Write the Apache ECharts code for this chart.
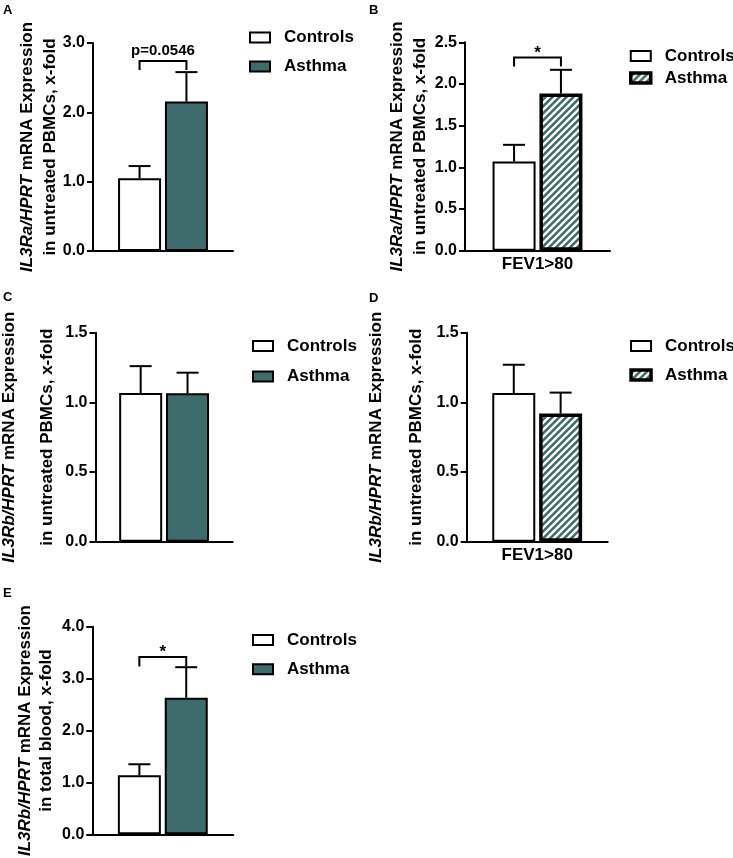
<!DOCTYPE html>
<html><head><meta charset="utf-8">
<script src="https://cdn.jsdelivr.net/npm/echarts@6.0.0/dist/echarts.min.js"></script>
<style>
html,body{margin:0;padding:0;background:#fff;width:733px;height:858px;overflow:hidden;position:relative}
.p{position:absolute}
</style></head><body>
<div id="p0" class="p" style="left:0;top:0;width:366px;height:285px"></div>
<div id="p1" class="p" style="left:366px;top:0;width:367px;height:285px"></div>
<div id="p2" class="p" style="left:0;top:285px;width:366px;height:285px"></div>
<div id="p3" class="p" style="left:366px;top:285px;width:367px;height:285px"></div>
<div id="p4" class="p" style="left:0;top:570px;width:366px;height:288px"></div>
<script>
// ---- data ----
const panelLetters = ['A', 'B', 'C', 'D', 'E'];
const seriesNames = ['Controls', 'Asthma'];
const categoryLabels = ['', 'FEV1>80', '', 'FEV1>80', ''];
const controlsMean = [1.05, 1.07, 1.067, 1.067, 1.137];
const controlsSem = [0.175, 0.20, 0.193, 0.203, 0.213];
const asthmaMean = [2.155, 1.885, 1.065, 0.92, 2.63];
const asthmaSem = [0.425, 0.285, 0.148, 0.15, 0.59];
const asthmaStriped = [false, true, false, true, false];
const yMax = [3, 2.5, 1.5, 1.5, 4];
const yInterval = [1, 0.5, 0.5, 0.5, 1];
const yLabelGene = ['IL3Ra/HPRT', 'IL3Ra/HPRT', 'IL3Rb/HPRT', 'IL3Rb/HPRT', 'IL3Rb/HPRT'];
const yLabelRest = [' mRNA Expression', ' mRNA Expression', ' mRNA Expression', ' mRNA Expression', ' mRNA Expression'];
const yLabelLine2 = ['in untreated PBMCs, x-fold', 'in untreated PBMCs, x-fold', 'in untreated PBMCs, x-fold', 'in untreated PBMCs, x-fold', 'in total blood, x-fold'];
const sigText = ['p=0.0546', '*', null, null, '*'];
const sigTop = [2.74, 2.317, null, null, 3.414];
const sigLeg = [2.61, 2.21, null, null, 3.234];

// ---- layout / style ----
const layout = [
  {gl: 93, gt: 43, gw: 140, gh: 208, legL: 249, legT: 28.5, legGap: 11, letterL: 3, letterT: 4, nameGap: 31, lh: 23},
  {gl: 99, gt: 42.3, gw: 145, gh: 208.4, legL: 263, legT: 47, legGap: 4, letterL: 3, letterT: 4, nameGap: 33.5, lh: 23},
  {gl: 92.7, gt: 47.7, gw: 140, gh: 209, legL: 252, legT: 52, legGap: 12.5, letterL: 3, letterT: 6, nameGap: 29, lh: 38},
  {gl: 100.7, gt: 47.7, gw: 141, gh: 209, legL: 263.3, legT: 52, legGap: 11, letterL: 3, letterT: 7, nameGap: 30, lh: 40},
  {gl: 92.3, gt: 56.7, gw: 141, gh: 209, legL: 252, legT: 61, legGap: 11.3, letterL: 3, letterT: 17, nameGap: 35, lh: 21}
];
const TEAL = '#3e6b6b';
const FONT = '"Liberation Sans", Arial, sans-serif';
const BAR_W = 43;
const BAR_GAP = 0.09;
const HALF_SEP = BAR_W * (1 + BAR_GAP) / 2;
const CAP = 22;

function stripeCanvas() {
  const s = 7;
  const c = document.createElement('canvas');
  c.width = s; c.height = s;
  const g = c.getContext('2d');
  g.fillStyle = TEAL; g.fillRect(0, 0, s, s);
  g.strokeStyle = '#fff'; g.lineWidth = 2.4;
  g.beginPath();
  g.moveTo(-1, s + 1); g.lineTo(s + 1, -1);
  g.moveTo(-1, 1); g.lineTo(1, -1);
  g.moveTo(s - 1, s + 1); g.lineTo(s + 1, s - 1);
  g.stroke();
  return c;
}
const stripe = stripeCanvas();

function buildOption(i) {
  const L = layout[i];
  const ctrlStyle = {color: '#fff', borderColor: '#000', borderWidth: 2};
  const asthStyle = asthmaStriped[i]
    ? {color: {image: stripe, repeat: 'repeat'}, borderColor: '#000', borderWidth: 3.5}
    : {color: TEAL, borderColor: '#000', borderWidth: 2};
  const series = [
    {type: 'bar', name: seriesNames[0], data: [controlsMean[i]], barWidth: BAR_W, barGap: (BAR_GAP * 100) + '%', itemStyle: ctrlStyle, silent: true, z: 2},
    {type: 'bar', name: seriesNames[1], data: [asthmaMean[i]], barWidth: BAR_W, barGap: (BAR_GAP * 100) + '%', itemStyle: asthStyle, silent: true, z: 2},
    {
      type: 'custom', name: 'err', silent: true, z: 5,
      data: [[0, controlsMean[i], controlsMean[i] + controlsSem[i], -1], [0, asthmaMean[i], asthmaMean[i] + asthmaSem[i], 1]],
      renderItem: function (params, api) {
        const base = api.coord([api.value(0), api.value(1)]);
        const top = api.coord([api.value(0), api.value(2)]);
        const x = base[0] + api.value(3) * HALF_SEP;
        return {type: 'group', children: [
          {type: 'line', shape: {x1: x, y1: base[1], x2: x, y2: top[1]}, style: {stroke: '#000', lineWidth: 2}},
          {type: 'line', shape: {x1: x - CAP / 2, y1: top[1], x2: x + CAP / 2, y2: top[1]}, style: {stroke: '#000', lineWidth: 2}}
        ]};
      }
    }
  ];
  if (sigText[i]) {
    series.push({
      type: 'custom', name: 'sig', silent: true, z: 6,
      data: [[0, sigTop[i], sigLeg[i]]],
      renderItem: function (params, api) {
        const t = api.coord([api.value(0), api.value(1)]);
        const b = api.coord([api.value(0), api.value(2)]);
        const x1 = t[0] - HALF_SEP, x2 = t[0] + HALF_SEP;
        const isStar = sigText[i] === '*';
        return {type: 'group', children: [
          {type: 'polyline', shape: {points: [[x1, b[1]], [x1, t[1]], [x2, t[1]], [x2, b[1]]]}, style: {stroke: '#000', lineWidth: 2, fill: null}},
          {type: 'text', x: t[0], y: t[1] - (isStar ? -4 : 3), style: {text: sigText[i], fill: '#000', font: 'bold ' + (isStar ? 17 : 15) + 'px ' + FONT, align: 'center', verticalAlign: 'bottom'}}
        ]};
      }
    });
  }
  return {
    animation: false,
    backgroundColor: '#fff',
    title: {text: panelLetters[i], left: L.letterL, top: L.letterT, padding: 0, textStyle: {fontFamily: FONT, fontWeight: 'bold', fontSize: 13, color: '#000'}},
    grid: {left: L.gl, top: L.gt, width: L.gw, height: L.gh, containLabel: false},
    legend: {
      orient: 'vertical', left: L.legL, top: L.legT, padding: 0,
      itemWidth: 20, itemHeight: 10, itemGap: L.legGap, icon: 'rect', selectedMode: false,
      textStyle: {fontFamily: FONT, fontWeight: 'bold', fontSize: 17, color: '#000', lineHeight: 18, padding: [0, 0, 0, 9]},
      data: [
        {name: seriesNames[0], itemStyle: ctrlStyle},
        {name: seriesNames[1], itemStyle: asthStyle}
      ]
    },
    xAxis: {
      type: 'category', data: [categoryLabels[i]],
      axisLine: {show: true, lineStyle: {color: '#000', width: 2}},
      axisTick: {show: false},
      axisLabel: {show: true, color: '#000', fontFamily: FONT, fontWeight: 'bold', fontSize: 17, margin: 5},
      splitLine: {show: false}
    },
    yAxis: {
      type: 'value', min: 0, max: yMax[i], interval: yInterval[i],
      axisLine: {show: true, lineStyle: {color: '#000', width: 2}},
      axisTick: {show: true, length: 6, lineStyle: {color: '#000', width: 2}},
      axisLabel: {color: '#000', fontFamily: FONT, fontWeight: 'bold', fontSize: 16, margin: 8, formatter: v => v.toFixed(1)},
      splitLine: {show: false},
      name: '{g|' + yLabelGene[i] + '}{n|' + yLabelRest[i] + '}\n{n|' + yLabelLine2[i] + '}',
      nameLocation: 'middle', nameRotate: 90, nameGap: L.nameGap,
      nameTextStyle: {
        rich: {
          g: {fontFamily: FONT, fontWeight: 'bold', fontStyle: 'italic', fontSize: 17, color: '#000', lineHeight: L.lh},
          n: {fontFamily: FONT, fontWeight: 'bold', fontSize: 17, color: '#000', lineHeight: L.lh}
        }
      }
    },
    series: series
  };
}

for (let i = 0; i < 5; i++) {
  const chart = echarts.init(document.getElementById('p' + i), null, {renderer: 'canvas'});
  chart.setOption(buildOption(i));
}
</script>
</body></html>
